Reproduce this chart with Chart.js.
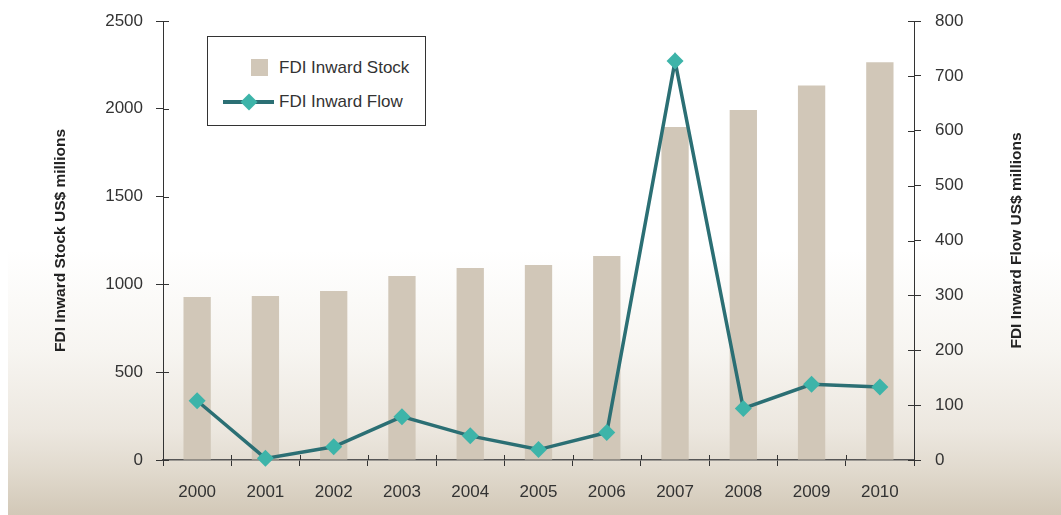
<!DOCTYPE html>
<html lang="en">
<head>
    <meta charset="UTF-8">
    <title>FDI Inward Stock and Flow</title>
    <style>
        html, body { margin: 0; padding: 0; background: #fff; }
        .wrap { position: relative; width: 1061px; height: 515px; overflow: hidden; }
        .bg {
            position: absolute; left: 8px; right: 0; top: 0; bottom: 0;
            background: linear-gradient(to bottom, #ffffff 0px, #ffffff 250px, #f7f5f1 350px, #ece7df 430px, #e1dace 470px, #d2c8b7 515px);
        }
        #chart { position: absolute; left: 0; top: 0; }
        .legend {
            position: absolute; left: 207px; top: 36px; width: 217px; height: 88px;
            border: 1px solid #333; background: #fff;
            font-family: "Liberation Sans", Arial, sans-serif;
            font-size: 17px; color: #333;
        }
        .legend .row { position: absolute; left: 0; height: 24px; width: 100%; }
        .legend .swatch { position: absolute; left: 43px; top: 3px; width: 17px; height: 17px; }
        .legend .line { position: absolute; left: 15px; top: 10px; width: 51px; height: 4px; }
        .legend .dia { position: absolute; left: 20px; top: -4px; width: 12px; height: 12px; transform: rotate(45deg); }
        .legend .txt { position: absolute; left: 71px; top: 0; line-height: 24px; }
    </style>
    <script src="https://cdn.jsdelivr.net/npm/chart.js"></script>
</head>
<body>
<div class="wrap">
    <div class="bg"></div>
    <canvas id="chart" width="1061" height="515"></canvas>
    <div class="legend" id="legend"></div>
</div>

<script>
    // data
    const years = ['2000', '2001', '2002', '2003', '2004', '2005', '2006', '2007', '2008', '2009', '2010'];
    const inwardStock = [928, 934, 962, 1048, 1093, 1110, 1162, 1896, 1993, 2133, 2265];
    const inwardFlow = [108, 3, 24, 79, 44, 19, 50, 727, 94, 138, 133];

    const stockLabel = 'FDI Inward Stock';
    const flowLabel = 'FDI Inward Flow';
    const stockAxisTitle = 'FDI Inward Stock US$ millions';
    const flowAxisTitle = 'FDI Inward Flow US$ millions';

    const barColor = '#d1c7b8';
    const lineColor = '#2b6f74';
    const pointColor = '#3db4a9';
    const axisColor = '#333';
    const fontFamily = '"Liberation Sans", Arial, sans-serif';

    // legend box (html, so the text stays real text)
    const legend = document.getElementById('legend');
    legend.innerHTML =
        '<div class="row" style="top:19px"><div class="swatch" style="background:' + barColor + '"></div>' +
        '<div class="txt">' + stockLabel + '</div></div>' +
        '<div class="row" style="top:53px"><div class="line" style="background:' + lineColor + '">' +
        '<div class="dia" style="background:' + pointColor + '"></div></div>' +
        '<div class="txt">' + flowLabel + '</div></div>';

    // ticks in this chart cross the axis line, Chart.js only draws the outer half
    const innerTicks = {
        id: 'innerTicks',
        afterDatasetsDraw(chart) {
            const { ctx, chartArea, scales } = chart;
            ctx.save();
            ctx.strokeStyle = axisColor;
            ctx.lineWidth = 1;
            ctx.beginPath();
            scales.y.ticks.forEach((t, i) => {
                const py = Math.round(scales.y.getPixelForTick(i)) + 0.5;
                ctx.moveTo(chartArea.left, py);
                ctx.lineTo(chartArea.left + 6, py);
            });
            scales.y2.ticks.forEach((t, i) => {
                const py = Math.round(scales.y2.getPixelForTick(i)) + 0.5;
                ctx.moveTo(chartArea.right - 6, py);
                ctx.lineTo(chartArea.right, py);
            });
            const step = scales.x.getPixelForValue(1) - scales.x.getPixelForValue(0);
            for (let i = 0; i <= years.length; i++) {
                const px = Math.round(scales.x.getPixelForValue(i) - step / 2) + 0.5;
                ctx.moveTo(px, chartArea.bottom - 5);
                ctx.lineTo(px, chartArea.bottom);
            }
            ctx.stroke();

            // right axis title reads bottom to top like the left one
            ctx.fillStyle = '#222';
            ctx.font = 'bold 15.5px ' + fontFamily;
            ctx.textAlign = 'center';
            ctx.textBaseline = 'middle';
            ctx.translate(1017, (chartArea.top + chartArea.bottom) / 2);
            ctx.rotate(-Math.PI / 2);
            ctx.fillText(flowAxisTitle, 0, 0);
            ctx.restore();
        }
    };

    // fixed axis sizes so the plot area sits where it does in the picture
    function fixWidth(w) {
        return scale => {
            scale.width = w;
            scale.paddingTop = 0;
            scale.paddingBottom = 0;
        };
    }

    Chart.defaults.font.family = fontFamily;
    Chart.defaults.color = '#333';

    new Chart(document.getElementById('chart'), {
        data: {
            labels: years,
            datasets: [
                {
                    type: 'line',
                    label: flowLabel,
                    data: inwardFlow,
                    yAxisID: 'y2',
                    borderColor: lineColor,
                    borderWidth: 3.5,
                    pointStyle: 'rectRot',
                    pointRadius: 8.5,
                    pointBackgroundColor: pointColor,
                    pointBorderColor: pointColor,
                    pointBorderWidth: 0,
                    tension: 0,
                    clip: false,
                    order: 0
                },
                {
                    type: 'bar',
                    label: stockLabel,
                    data: inwardStock,
                    yAxisID: 'y',
                    backgroundColor: barColor,
                    categoryPercentage: 1,
                    barPercentage: 0.4,
                    order: 1
                }
            ]
        },
        options: {
            responsive: false,
            animation: false,
            devicePixelRatio: 1,
            layout: { autoPadding: false, padding: { top: 21, left: 0, right: 0, bottom: 0 } },
            plugins: { legend: { display: false }, tooltip: { enabled: false } },
            scales: {
                x: {
                    grid: { drawOnChartArea: false, drawTicks: true, tickLength: 6, color: axisColor, offset: true },
                    border: { color: '#555', width: 1.5 },
                    ticks: { font: { size: 17 }, color: '#333', padding: 16 },
                    afterFit(scale) { scale.height = 55; }
                },
                y: {
                    position: 'left',
                    min: 0, max: 2500,
                    grid: { drawOnChartArea: false, tickLength: 7, color: axisColor },
                    border: { color: axisColor, width: 1 },
                    ticks: { stepSize: 500, font: { size: 17 }, color: '#333', padding: 13, callback: v => String(v) },
                    title: {
                        display: true, text: stockAxisTitle, color: '#222',
                        font: { size: 15.5, weight: 'bold' }, padding: { top: 51, bottom: 0 }
                    },
                    afterFit: fixWidth(163)
                },
                y2: {
                    position: 'right',
                    min: 0, max: 800,
                    grid: { drawOnChartArea: false, tickLength: 7, color: axisColor },
                    border: { color: axisColor, width: 1 },
                    ticks: { stepSize: 100, font: { size: 17 }, color: '#333', padding: 14, callback: v => String(v) },
                    afterFit: fixWidth(147)
                }
            }
        },
        plugins: [innerTicks]
    });
</script>
</body>
</html>
